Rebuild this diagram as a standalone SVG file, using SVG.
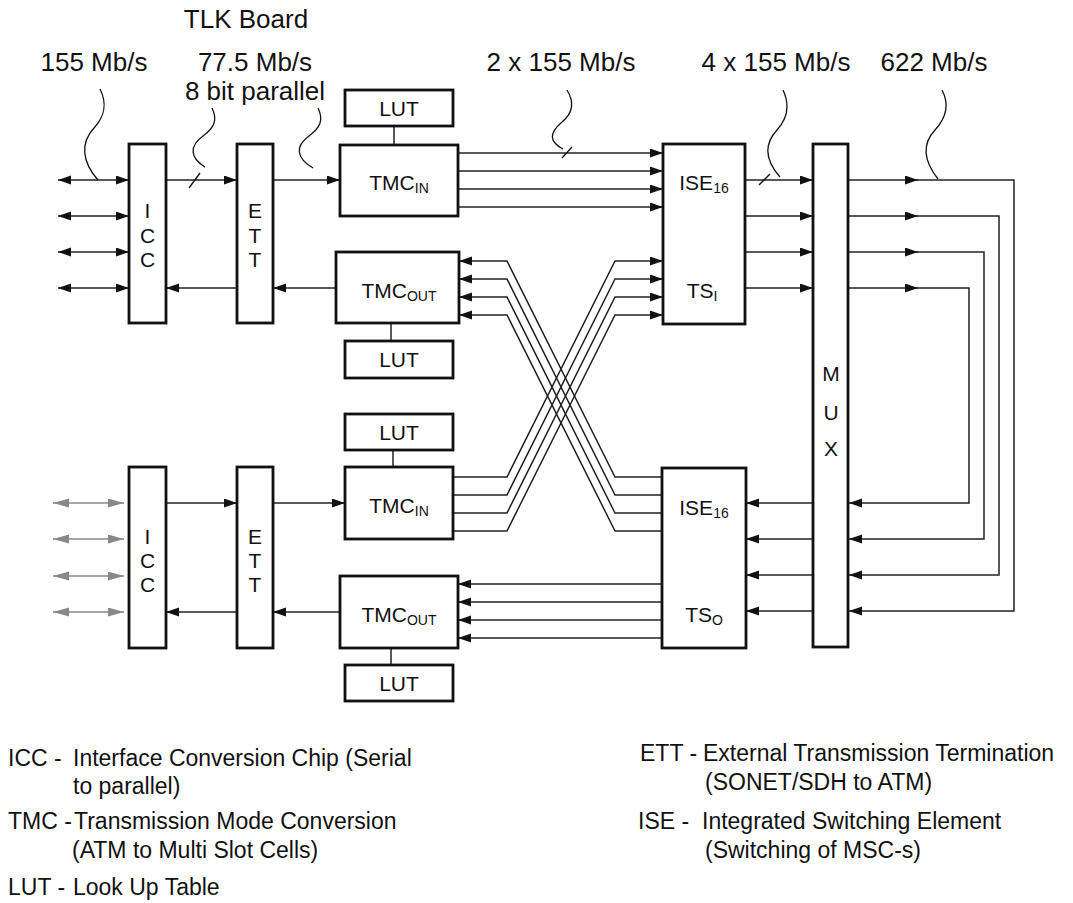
<svg xmlns="http://www.w3.org/2000/svg" width="1073" height="903" viewBox="0 0 1073 903">
<defs>
<marker id="ah" markerUnits="userSpaceOnUse" markerWidth="14" markerHeight="10" refX="13" refY="4.5" orient="auto-start-reverse"><path d="M0,0 L13,4.5 L0,9 z" fill="#111"/></marker>
<marker id="ahg" markerUnits="userSpaceOnUse" markerWidth="18" markerHeight="10" refX="16" refY="4.5" orient="auto-start-reverse"><path d="M0,0 L16,4.5 L0,9 z" fill="#888"/></marker>
<style>
.box{fill:#fff;stroke:#111;stroke-width:2.8}
.ln{fill:none;stroke:#222;stroke-width:1.5}
.a{marker-end:url(#ah)}
.d{marker-start:url(#ah);marker-end:url(#ah)}
.g{fill:none;stroke:#888;stroke-width:1.5;marker-start:url(#ahg);marker-end:url(#ahg)}
.sq{fill:none;stroke:#111;stroke-width:1.3}
text{font-family:"Liberation Sans",Arial,Helvetica,sans-serif;fill:#111}
.bl{font-size:21px;text-anchor:middle}
.sub{font-size:14px}
.top{font-size:26px;text-anchor:middle}
.lg{font-size:23px}
</style>
</defs>

<g id="labels">
<text class="top" x="246" y="28">TLK Board</text>
<text class="top" x="94" y="71">155 Mb/s</text>
<text class="top" x="255" y="71">77.5 Mb/s</text>
<text class="top" x="255" y="100">8 bit parallel</text>
<text class="top" x="561" y="71">2 x 155 Mb/s</text>
<text class="top" x="776" y="71">4 x 155 Mb/s</text>
<text class="top" x="934" y="71">622 Mb/s</text>
</g>

<g id="connectors">
<line class="ln d" x1="58" y1="180" x2="129" y2="180"/>
<line class="ln d" x1="58" y1="216" x2="129" y2="216"/>
<line class="ln d" x1="58" y1="252" x2="129" y2="252"/>
<line class="ln d" x1="58" y1="288" x2="129" y2="288"/>
<line class="ln a" x1="166" y1="180" x2="237" y2="180"/>
<line class="ln a" x1="273" y1="180" x2="340" y2="180"/>
<line class="ln a" x1="336" y1="288" x2="273" y2="288"/>
<line class="ln a" x1="237" y1="288" x2="166" y2="288"/>
<line class="ln" x1="394" y1="126" x2="394" y2="145"/>
<line class="ln" x1="391" y1="323" x2="391" y2="341"/>
<line class="ln" x1="393" y1="450" x2="393" y2="467"/>
<line class="ln" x1="391" y1="648" x2="391" y2="665"/>
<line class="ln a" x1="458" y1="153" x2="663" y2="153"/>
<line class="ln a" x1="458" y1="171" x2="663" y2="171"/>
<line class="ln a" x1="458" y1="189" x2="663" y2="189"/>
<line class="ln a" x1="458" y1="207" x2="663" y2="207"/>
<path class="ln a" d="M662,477 H615 L507,261 H459"/>
<path class="ln a" d="M662,495 H615 L507,279 H459"/>
<path class="ln a" d="M662,513 H615 L507,297 H459"/>
<path class="ln a" d="M662,531 H615 L507,315 H459"/>
<path class="ln a" d="M453,477 H507 L615,261 H663"/>
<path class="ln a" d="M453,495 H507 L615,279 H663"/>
<path class="ln a" d="M453,513 H507 L615,297 H663"/>
<path class="ln a" d="M453,531 H507 L615,315 H663"/>
<line class="ln a" x1="745" y1="180" x2="813" y2="180"/>
<line class="ln a" x1="745" y1="216" x2="813" y2="216"/>
<line class="ln a" x1="745" y1="252" x2="813" y2="252"/>
<line class="ln a" x1="745" y1="288" x2="813" y2="288"/>
<line class="ln a" x1="848" y1="180" x2="918" y2="180"/>
<line class="ln a" x1="848" y1="216" x2="918" y2="216"/>
<line class="ln a" x1="848" y1="252" x2="918" y2="252"/>
<line class="ln a" x1="848" y1="288" x2="918" y2="288"/>
<path class="ln a" d="M917,180 H1014 V611 H849"/>
<path class="ln a" d="M917,216 H999 V575 H849"/>
<path class="ln a" d="M917,252 H984 V539 H849"/>
<path class="ln a" d="M917,288 H969 V503 H849"/>
<line class="ln a" x1="813" y1="503" x2="746" y2="503"/>
<line class="ln a" x1="813" y1="539" x2="746" y2="539"/>
<line class="ln a" x1="813" y1="575" x2="746" y2="575"/>
<line class="ln a" x1="813" y1="611" x2="746" y2="611"/>
<line class="ln a" x1="662" y1="584" x2="458" y2="584"/>
<line class="ln a" x1="662" y1="602" x2="458" y2="602"/>
<line class="ln a" x1="662" y1="620" x2="458" y2="620"/>
<line class="ln a" x1="662" y1="638" x2="458" y2="638"/>
<line class="g" x1="53" y1="503" x2="124" y2="503"/>
<line class="g" x1="53" y1="539" x2="124" y2="539"/>
<line class="g" x1="53" y1="576" x2="124" y2="576"/>
<line class="g" x1="53" y1="612" x2="124" y2="612"/>
<line class="ln a" x1="166" y1="503" x2="237" y2="503"/>
<line class="ln a" x1="273" y1="503" x2="345" y2="503"/>
<line class="ln a" x1="340" y1="612" x2="273" y2="612"/>
<line class="ln a" x1="237" y1="612" x2="166" y2="612"/>
<path class="sq" d="M100,89 C108,105 104,117 94,128 C80,143 82,162 98,180"/>
<path class="sq" d="M212,108 C218,120 214,128 203,136 C189,146 190,158 205,167"/>
<line class="sq" x1="189" y1="188" x2="200" y2="173"/>
<path class="sq" d="M318,108 C324,120 320,128 309,136 C295,146 296,158 313,168"/>
<path class="sq" d="M567,90 C575,103 573,113 562,122 C548,134 550,142 563,149"/>
<line class="sq" x1="562" y1="158" x2="572" y2="147"/>
<path class="sq" d="M783,90 C790,105 788,118 777,130 C764,144 765,160 780,177"/>
<line class="sq" x1="759" y1="185" x2="770" y2="174"/>
<path class="sq" d="M942,90 C950,105 946,118 935,130 C922,144 923,160 938,179"/>
</g>

<g id="icc1"><rect class="box" x="129" y="144" width="37" height="179"/>
<text class="bl" x="147.5" y="218">I</text><text class="bl" x="147.5" y="243">C</text><text class="bl" x="147.5" y="267">C</text></g>
<g id="ett1"><rect class="box" x="237" y="144" width="36" height="179"/>
<text class="bl" x="255" y="218">E</text><text class="bl" x="255" y="243">T</text><text class="bl" x="255" y="267">T</text></g>
<g id="lut1"><rect class="box" x="345" y="90" width="108" height="36"/><text class="bl" x="399" y="115.5">LUT</text></g>
<g id="tmcin1"><rect class="box" x="340" y="145" width="118" height="71"/><text class="bl" x="399" y="190">TMC<tspan class="sub" dy="3">IN</tspan></text></g>
<g id="tmcout1"><rect class="box" x="336" y="252" width="123" height="71"/><text class="bl" x="399" y="298">TMC<tspan class="sub" dy="3">OUT</tspan></text></g>
<g id="lut2"><rect class="box" x="345" y="341" width="108" height="37"/><text class="bl" x="399" y="367">LUT</text></g>
<g id="lut3"><rect class="box" x="345" y="414" width="108" height="36"/><text class="bl" x="399" y="439.5">LUT</text></g>
<g id="icc2"><rect class="box" x="129" y="467" width="37" height="181"/>
<text class="bl" x="147.5" y="544">I</text><text class="bl" x="147.5" y="568">C</text><text class="bl" x="147.5" y="592">C</text></g>
<g id="ett2"><rect class="box" x="237" y="467" width="36" height="181"/>
<text class="bl" x="255" y="544">E</text><text class="bl" x="255" y="568">T</text><text class="bl" x="255" y="592">T</text></g>
<g id="tmcin2"><rect class="box" x="345" y="467" width="108" height="72"/><text class="bl" x="399" y="512.5">TMC<tspan class="sub" dy="3">IN</tspan></text></g>
<g id="tmcout2"><rect class="box" x="340" y="576" width="118" height="72"/><text class="bl" x="399" y="621.5">TMC<tspan class="sub" dy="3">OUT</tspan></text></g>
<g id="lut4"><rect class="box" x="345" y="665" width="108" height="36"/><text class="bl" x="399" y="690.5">LUT</text></g>
<g id="ise1"><rect class="box" x="663" y="144" width="82" height="180"/>
<text class="bl" x="704" y="190">ISE<tspan class="sub" dy="3">16</tspan></text>
<text class="bl" x="702" y="298">TS<tspan class="sub" dy="3">I</tspan></text></g>
<g id="ise2"><rect class="box" x="662" y="468" width="84" height="180"/>
<text class="bl" x="704" y="515">ISE<tspan class="sub" dy="3">16</tspan></text>
<text class="bl" x="704" y="622">TS<tspan class="sub" dy="3">O</tspan></text></g>
<g id="mux"><rect class="box" x="813" y="144" width="35" height="503"/>
<text class="bl" x="831" y="381">M</text><text class="bl" x="831" y="420">U</text><text class="bl" x="831" y="456">X</text></g>

<g id="legend">
<text class="lg" y="766"><tspan x="8">ICC -</tspan><tspan x="73">Interface Conversion Chip (Serial</tspan></text>
<text class="lg" x="73" y="794">to parallel)</text>
<text class="lg" y="829"><tspan x="8">TMC -</tspan><tspan x="74">Transmission Mode Conversion</tspan></text>
<text class="lg" x="72" y="858">(ATM to Multi Slot Cells)</text>
<text class="lg" y="895"><tspan x="8">LUT -</tspan><tspan x="73">Look Up Table</tspan></text>
<text class="lg" y="761"><tspan x="640">ETT -</tspan><tspan x="703">External Transmission Termination</tspan></text>
<text class="lg" x="705" y="790">(SONET/SDH to ATM)</text>
<text class="lg" y="829"><tspan x="638">ISE -</tspan><tspan x="702">Integrated Switching Element</tspan></text>
<text class="lg" x="705" y="858">(Switching of MSC-s)</text>
</g>
</svg>
